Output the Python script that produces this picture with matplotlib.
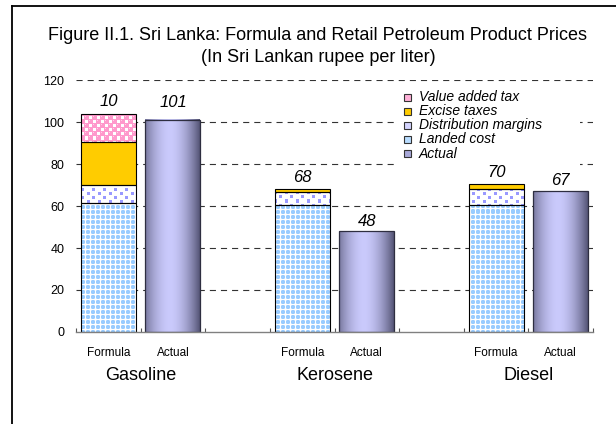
import numpy as np
import matplotlib
matplotlib.use('Agg')
import matplotlib.pyplot as plt
from matplotlib.patches import Rectangle
from matplotlib.lines import Line2D

# ---------------- data ----------------
groups = ['Gasoline', 'Kerosene', 'Diesel']
bar_kinds = ['Formula', 'Actual']
landed_cost = [61.4, 60.3, 60.7]
distribution_margins = [8.8, 6.4, 7.3]
excise_taxes = [20.1, 1.3, 2.3]
value_added_tax = [13.4, 0.0, 0.0]
actual = [101, 48, 67]
formula_value_labels = ['10', '68', '70']
actual_value_labels = ['101', '48', '67']
y_ticks = [0, 20, 40, 60, 80, 100, 120]
legend_labels = ['Value added tax', 'Excise taxes', 'Distribution margins',
                 'Landed cost', 'Actual']
title_line1 = 'Figure II.1. Sri Lanka: Formula and Retail Petroleum Product Prices'
title_line2 = '(In Sri Lankan rupee per liter)'

# ---------------- style ----------------
plt.rcParams['font.family'] = ['Liberation Sans', 'DejaVu Sans']
W, H = 616, 424
fig = plt.figure(figsize=(W / 100, H / 100), dpi=100)
ax_l, ax_r, ax_b, ax_t = 76, 593, 332, 80
aw, ah = ax_r - ax_l, ax_b - ax_t
ax = fig.add_axes([ax_l / W, 1 - ax_b / H, aw / W, ah / H])
ax.set_xlim(-0.5, 7.5)
ax.set_ylim(0, 120)


def hexrgb(h):
    return np.array([int(h[i:i + 2], 16) / 255 for i in (1, 3, 5)])


yy, xx = np.mgrid[0:ah, 0:aw]

# landed cost: light-blue dots on white
tile_l = np.array([[1, 2, 2, 1, 0],
                   [2, 2, 2, 2, 0],
                   [2, 2, 2, 2, 0],
                   [1, 2, 2, 1, 0],
                   [0, 0, 0, 0, 0]])
m = tile_l[yy % 5, xx % 5]
tex_landed = np.ones((ah, aw, 3))
tex_landed[m == 2] = hexrgb('#99CCFF')
tex_landed[m == 1] = hexrgb('#C4E0FF')

# distribution margins: scattered blue-violet squares on white
tile_d = np.zeros((8, 11), dtype=int)
tile_d[0:3, 0:3] = 1
tile_d[4:7, 5:8] = 1
m = tile_d[yy % 8, xx % 11]
tex_dist = np.ones((ah, aw, 3))
tex_dist[m == 1] = hexrgb('#9999FF')

# VAT: pink with white checks
tile_v = np.zeros((8, 8), dtype=int)
tile_v[1:4, 1:4] = 1
tile_v[5:8, 5:8] = 1
tile_v[5, 1] = 2
tile_v[1, 5] = 2
m = tile_v[yy % 8, xx % 8]
tex_vat = np.ones((ah, aw, 3)) * hexrgb('#FF99CC')
tex_vat[m == 1] = 1.0
tex_vat[m == 2] = hexrgb('#FFD0E8')

tex_excise = np.ones((ah, aw, 3)) * hexrgb('#FFCC00')

bar_w = 0.85
formula_x = [3 * i for i in range(len(groups))]
actual_x = [3 * i + 1 for i in range(len(groups))]

# gridlines
ax.set_yticks(y_ticks)
ax.yaxis.grid(True, color='#333333', lw=0.8, linestyle=(0, (5.5, 4.5)))
ax.get_ygridlines()[0].set_visible(False)
ax.set_axisbelow(True)

# stacked formula bars
bottom = np.zeros(len(groups))
for vals, tex in [(landed_cost, tex_landed), (distribution_margins, tex_dist),
                  (excise_taxes, tex_excise), (value_added_tax, tex_vat)]:
    vals = np.array(vals)
    bars = ax.bar(formula_x, vals, bar_w, bottom=bottom, facecolor='none',
                  edgecolor='black', lw=0.8, zorder=4)
    for p, v in zip(bars.patches, vals):
        if v <= 0:
            p.set_visible(False)
            continue
        im = ax.imshow(tex, extent=(-0.5, 7.5, 0, 120), aspect='auto',
                       interpolation='nearest', origin='upper', zorder=3)
        im.set_clip_path(p)
    bottom = bottom + vals

# actual bars with horizontal gradient
t = np.linspace(0, 1, 80)
f = np.clip(1 - np.abs((t - 0.45) / 0.58) ** 1.8, 0, 1)
dark = hexrgb('#4A4A6A')
light = hexrgb('#CACAFC')
grad = dark[None, :] + (light - dark)[None, :] * f[:, None]
grad = grad[None, :, :]
abars = ax.bar(actual_x, actual, bar_w, facecolor='none', edgecolor='#2E2E40',
               lw=0.9, zorder=4)
for x, v in zip(actual_x, actual):
    ax.imshow(grad, extent=(x - bar_w / 2, x + bar_w / 2, 0, v), aspect='auto',
              interpolation='bilinear', zorder=3)
ax.set_xlim(-0.5, 7.5)
ax.set_ylim(0, 120)

# value labels
formula_offsets = [11, 10, 10.5]
actual_offsets = [16, 8.5, 9.5]
for x, top, lab, off in zip(formula_x, bottom, formula_value_labels, formula_offsets):
    ax.annotate(lab, (x, top), xytext=(0, off + 1.5), textcoords='offset pixels',
                ha='center', va='center', fontsize=12, style='italic', zorder=6)
for x, top, lab, off in zip(actual_x, actual, actual_value_labels, actual_offsets):
    ax.annotate(lab, (x, top), xytext=(0, off + 1.5), textcoords='offset pixels',
                ha='center', va='center', fontsize=12, style='italic', zorder=6)

# axes styling
for s in ['left', 'top', 'right']:
    ax.spines[s].set_visible(False)
ax.spines['bottom'].set_color('#808080')
ax.spines['bottom'].set_linewidth(1.0)
ax.spines['bottom'].set_zorder(5)
ax.tick_params(axis='y', length=0, pad=8.5, labelsize=9)
ax.set_xticks([])
ax.set_xticks(np.arange(-0.5, 8.0, 1.0), minor=True)
ax.tick_params(axis='x', which='minor', direction='in', length=3.2,
               color='#555555', width=0.8)

# category labels
xform = ax.get_xaxis_transform()
for i, g in enumerate(groups):
    for x, k in zip([formula_x[i], actual_x[i]], bar_kinds):
        ax.text(x, (ax_b - 352.5) / ah, k, transform=xform, ha='center',
                va='center', fontsize=8.5, clip_on=False)
    ax.text(formula_x[i] + 0.5, (ax_b - 375) / ah, g, transform=xform,
            ha='center', va='center', fontsize=13, clip_on=False)

# title
fig.text(318 / W, 1 - 35 / H, title_line1, ha='center', va='center', fontsize=13)
fig.text(318 / W, 1 - 58 / H, title_line2, ha='center', va='center', fontsize=13)

# legend (manual) with white background box placed between gridlines and bars
legend_bg = Rectangle((397 / W, 1 - 167 / H), (580 - 397) / W, (167 - 87) / H,
                      transform=fig.transFigure, facecolor='white',
                      edgecolor='none', zorder=2, clip_on=False)
ax.add_patch(legend_bg)
leg_colors = ['#FFB0D8', '#FFCC00', '#D4D4FF', '#B8DCFF', '#A8A8D8']
for i, (lab, c) in enumerate(zip(legend_labels, leg_colors)):
    yc = 97 + 14.15 * i
    fig.add_artist(Rectangle((404 / W, 1 - (yc + 3.5) / H), 7 / W, 7 / H,
                             transform=fig.transFigure, facecolor=c,
                             edgecolor='#333333', lw=0.8, zorder=2))
    fig.text(419 / W, 1 - yc / H, lab, ha='left', va='center', fontsize=10,
             style='italic', zorder=3)

# outer frame (left and top edges visible)
fig.add_artist(Line2D([11.7 / W, 11.7 / W], [0, 1 - 6 / H], transform=fig.transFigure,
                      color='black', lw=1.3))
fig.add_artist(Line2D([11.7 / W, 1], [1 - 6 / H, 1 - 6 / H], transform=fig.transFigure,
                      color='black', lw=1.3))

fig.savefig('out.png', dpi=100)
